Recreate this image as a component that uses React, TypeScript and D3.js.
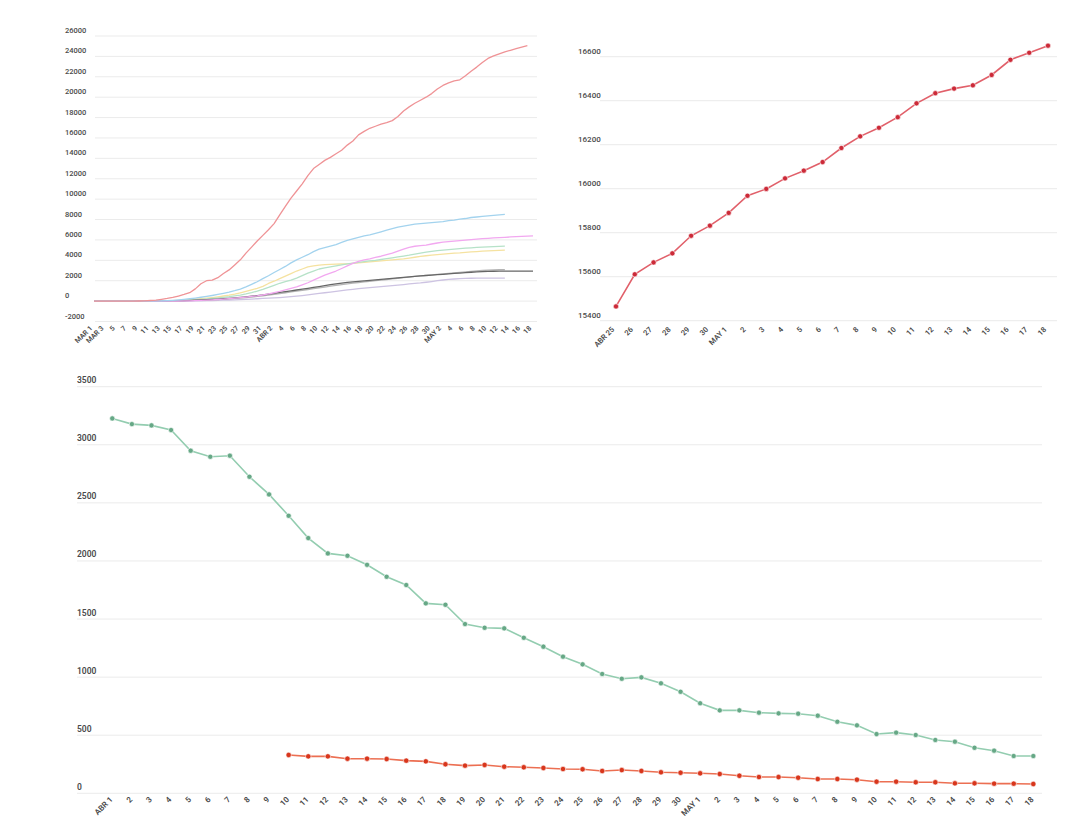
import React from "react";
import * as d3 from "d3";

// ---------- Top-left: cumulative series, daily from MAR 1 ----------
const TL_TICKS = ["MAR 1","MAR 3","5","7","9","11","13","15","17","19","21","23","25","27","29","31","ABR 2","4","6","8","10","12","14","16","18","20","22","24","26","28","30","MAY 2","4","6","8","10","12","14","16","18"];
const TL_Y_TICKS = [-2000,0,2000,4000,6000,8000,10000,12000,14000,16000,18000,20000,22000,24000,26000];

const tlRed = [0,0,0,0,0,0,0,0,10,30, 60,100,180,260,360,500,650,820,1200,1700, 2000,2050,2300,2700,3060,3550,4050,4700,5300,5900, 6450,7000,7600,8450,9300,10100,10800,11500,12300,13000, 13400,13800,14100,14450,14800,15300,15700,16300,16650,16950, 17150,17350,17500,17700,18100,18650,19050,19400,19700,20000, 20350,20800,21150,21400,21600,21700,22100,22550,22950,23400, 23800,24050,24250,24450,24600,24750,24900,25050];
const tlBlue = [0,0,0,0,0,0,0,0,0,0, 5,15,30,50,80,120,170,230,300,380, 460,550,650,760,880,1020,1180,1400,1650,1900, 2200,2490,2800,3100,3400,3750,4050,4300,4550,4850, 5100,5250,5400,5550,5750,5950,6100,6250,6400,6500, 6650,6800,6950,7100,7250,7350,7450,7550,7600,7650, 7700,7750,7800,7900,7950,8050,8100,8200,8250,8300, 8350,8400,8450,8500];
const tlPink = [0,0,0,0,0,0,0,0,0,0, 0,0,0,0,0,10,20,30,50,70, 100,130,160,200,240,290,340,400,460,520, 600,700,820,950,1100,1250,1400,1600,1800,2050, 2300,2550,2750,2950,3200,3450,3700,3900,4050,4150, 4280,4400,4550,4700,4900,5100,5280,5380,5440,5490, 5600,5700,5780,5830,5880,5930,5980,6030,6080,6120, 6160,6200,6230,6260,6290,6320,6350,6380,6400];
const tlYellow = [0,0,0,0,0,0,0,0,0,0, 0,0,0,20,40,70,100,140,180,230, 290,350,420,500,580,680,810,950,1100,1250, 1450,1730,1950,2200,2450,2700,2950,3150,3350,3450, 3530,3580,3600,3620,3640,3660,3700,3750,3800,3850, 3900,3950,4000,4050,4100,4150,4220,4300,4380,4450, 4500,4550,4600,4650,4700,4730,4780,4820,4860,4900, 4930,4960,4980,5000];
const tlGreen = [0,0,0,0,0,0,0,0,0,0, 0,0,0,10,25,45,70,100,130,170, 210,260,310,370,430,510,590,700,830,980, 1150,1340,1550,1750,1900,2050,2250,2500,2750,2950, 3150,3250,3350,3450,3550,3650,3730,3800,3870,3940, 4000,4080,4160,4250,4330,4420,4500,4600,4700,4800, 4880,4950,5000,5050,5100,5150,5200,5230,5260,5290, 5320,5350,5370,5390];
const tlGray = [0,0,0,0,0,0,0,0,0,0, 0,0,0,5,15,25,40,55,70,90, 110,130,160,190,220,260,300,350,400,460, 520,590,660,740,820,900,980,1060,1140,1220, 1300,1380,1460,1540,1620,1700,1760,1820,1880,1940, 2000,2060,2120,2180,2240,2300,2360,2420,2470,2520, 2570,2620,2670,2720,2770,2820,2870,2920,2960,3000, 3030,3060,3080,3080];
const tlBlack = [0,0,0,0,0,0,0,0,0,0, 0,0,0,10,20,35,50,70,90,110, 140,170,200,230,270,310,360,420,480,540, 600,680,760,850,930,1010,1090,1170,1250,1340, 1430,1520,1610,1700,1770,1830,1880,1930,1980,2030, 2080,2130,2180,2230,2280,2330,2380,2430,2470,2510, 2550,2590,2630,2670,2710,2750,2790,2830,2860,2890, 2910,2930,2940,2950,2950,2950,2950,2950,2950];
const tlLavender = [0,0,0,0,0,0,0,0,0,0, 0,0,0,0,0,0,0,10,20,30, 40,55,70,90,110,130,150,175,200,230, 260,290,320,350,390,430,480,540,610,680, 750,820,890,960,1030,1100,1160,1220,1270,1320, 1370,1420,1470,1520,1570,1620,1680,1730,1780,1850, 1920,2000,2070,2130,2170,2200,2220,2240,2250,2250, 2250,2250,2250,2250];

const TL_SERIES = [
  { values: tlLavender, color: "#cdc3e2" },
  { values: tlGray, color: "#b4b4b4" },
  { values: tlYellow, color: "#f5e2a0" },
  { values: tlGreen, color: "#b6e2c8" },
  { values: tlBlack, color: "#666666" },
  { values: tlPink, color: "#f2a8f0" },
  { values: tlBlue, color: "#a3d3ee" },
  { values: tlRed, color: "#ef9396" },
];

// ---------- Top-right: daily from ABR 25 ----------
const TR_LABELS = ["ABR 25","26","27","28","29","30","MAY 1","2","3","4","5","6","7","8","9","10","11","12","13","14","15","16","17","18"];
const TR_VALUES = [15465,15611,15665,15706,15786,15832,15890,15968,15999,16047,16082,16121,16185,16238,16277,16325,16388,16434,16455,16470,16517,16586,16618,16650];
const TR_Y_TICKS = [15400,15600,15800,16000,16200,16400,16600];

// ---------- Bottom: daily from ABR 1 ----------
const B_LABELS = ["ABR 1","2","3","4","5","6","7","8","9","10","11","12","13","14","15","16","17","18","19","20","21","22","23","24","25","26","27","28","29","30","MAY 1","2","3","4","5","6","7","8","9","10","11","12","13","14","15","16","17","18"];
const B_GREEN = [3227,3178,3167,3127,2949,2897,2906,2725,2573,2389,2197,2065,2045,1967,1864,1793,1635,1623,1457,1425,1420,1339,1262,1176,1110,1027,986,998,947,874,775,714,714,694,688,685,668,616,585,510,522,502,459,444,392,367,321,321];
// red series starts at ABR 10 (index 9)
const B_RED_START = 9;
const B_RED = [330,318,318,298,298,295,281,275,250,238,244,229,224,218,209,207,192,200,192,181,177,172,166,151,140,140,134,123,123,117,100,100,95,95,86,86,83,83,80];
const B_Y_TICKS = [0,500,1000,1500,2000,2500,3000,3500];

const FONT = "Roboto, 'DejaVu Sans', sans-serif";
const GRID = "#ebebeb";
const LABEL = "#4a4a4a";

function TopLeft() {
  const x = d3.scaleLinear().domain([0, 78]).range([94, 533]);
  const y = d3.scaleLinear().domain([-2000, 26000]).range([321.5, 36]);
  const line = d3.line<number>().x((_, i) => x(i)).y((v) => y(v));
  return (
    <g>
      {TL_Y_TICKS.map((t) => (
        <g key={t}>
          <line x1={95} x2={537} y1={y(t)} y2={y(t)} stroke={GRID} strokeWidth={1} />
          <text x={65} y={y(t) - 3} fontSize={7.5} fill={LABEL} fontWeight={500} fontFamily={FONT}>{t}</text>
        </g>
      ))}
      {TL_SERIES.map((s, k) => (
        <path key={k} d={line(s.values) || ""} fill="none" stroke={s.color} strokeWidth={1.3} strokeLinejoin="round" />
      ))}
      {TL_TICKS.map((lab, i) => (
        <text key={i} transform={`translate(${x(i * 2) - 3},${327}) rotate(-45)`} textAnchor="end" dy="0.35em" fontSize={7} fill={LABEL} fontWeight={600} fontFamily={FONT}>{lab}</text>
      ))}
    </g>
  );
}

function TopRight() {
  const x = d3.scaleLinear().domain([0, TR_VALUES.length - 1]).range([616, 1048]);
  const y = d3.scaleLinear().domain([15400, 16600]).range([320.7, 56.7]);
  const line = d3.line<number>().x((_, i) => x(i)).y((v) => y(v));
  return (
    <g>
      {TR_Y_TICKS.map((t) => (
        <g key={t}>
          <line x1={600} x2={1057} y1={y(t)} y2={y(t)} stroke={GRID} strokeWidth={1} />
          <text x={578} y={y(t) - 3} fontSize={8} fill={LABEL} fontWeight={500} fontFamily={FONT}>{t}</text>
        </g>
      ))}
      <path d={line(TR_VALUES) || ""} fill="none" stroke="#e1606a" strokeWidth={1.6} />
      {TR_VALUES.map((v, i) => (
        <circle key={i} cx={x(i)} cy={y(v)} r={2.6} fill="#cc2a38" stroke="#fff" strokeWidth={0.6} />
      ))}
      {TR_LABELS.map((lab, i) => (
        <text key={i} transform={`translate(${x(i) - 3},${328}) rotate(-45)`} textAnchor="end" dy="0.35em" fontSize={7.5} fill={LABEL} fontWeight={600} fontFamily={FONT}>{lab}</text>
      ))}
    </g>
  );
}

function Bottom() {
  const x = d3.scaleLinear().domain([0, B_LABELS.length - 1]).range([112.3, 1033.3]);
  const y = d3.scaleLinear().domain([0, 3500]).range([793.3, 386.7]);
  const lineG = d3.line<number>().x((_, i) => x(i)).y((v) => y(v));
  const lineR = d3.line<number>().x((_, i) => x(i + B_RED_START)).y((v) => y(v));
  return (
    <g>
      {B_Y_TICKS.map((t) => (
        <g key={t}>
          <line x1={77} x2={1042} y1={y(t)} y2={y(t)} stroke={GRID} strokeWidth={1} />
          <text x={77} y={y(t) - 3.5} fontSize={8.5} fill={LABEL} fontWeight={600} fontFamily={FONT}>{t}</text>
        </g>
      ))}
      <path d={lineG(B_GREEN) || ""} fill="none" stroke="#93cdb0" strokeWidth={1.6} />
      {B_GREEN.map((v, i) => (
        <circle key={i} cx={x(i)} cy={y(v)} r={2.6} fill="#66a886" stroke="#fff" strokeWidth={0.6} />
      ))}
      <path d={lineR(B_RED) || ""} fill="none" stroke="#ec6f52" strokeWidth={1.6} />
      {B_RED.map((v, i) => (
        <circle key={i} cx={x(i + B_RED_START)} cy={y(v)} r={2.7} fill="#d8361c" stroke="#fff" strokeWidth={0.6} />
      ))}
      {B_LABELS.map((lab, i) => (
        <text key={i} transform={`translate(${x(i) - 1},${798}) rotate(-45)`} textAnchor="end" dy="0.35em" fontSize={8} fill={LABEL} fontWeight={600} fontFamily={FONT}>{lab}</text>
      ))}
    </g>
  );
}

export default function App() {
  return (
    <svg width={1080} height={840} style={{ position: "absolute", left: 0, top: 0, background: "#fff" }}>
      <rect x={0} y={0} width={1080} height={840} fill="#fff" />
      <TopLeft />
      <TopRight />
      <Bottom />
    </svg>
  );
}
